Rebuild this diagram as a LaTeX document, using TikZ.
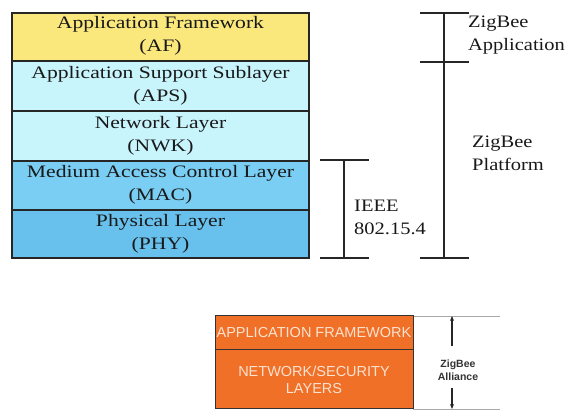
\documentclass[tikz,border=0pt]{standalone}
\usepackage{fontspec}
\setmainfont{Liberation Serif}
\newfontfamily\timesf{Liberation Serif}
\newfontfamily\arialf{Liberation Sans}
\usetikzlibrary{arrows.meta}
\definecolor{afyel}{RGB}{250,232,125}
\definecolor{lcyan}{RGB}{200,244,252}
\definecolor{macblue}{RGB}{122,206,243}
\definecolor{phyblue}{RGB}{104,192,236}
\definecolor{orng}{RGB}{240,112,40}
\definecolor{peach}{RGB}{252,226,208}
\definecolor{lgray}{RGB}{170,170,170}
\tikzset{
  layer/.style={draw=black!85, line width=1.4pt},
  lab/.style={font=\timesf\fontsize{17.5}{23}\selectfont, align=center, inner sep=0pt, text=black!90},
  bar/.style={line width=1.3pt, black!85},
  side/.style={font=\timesf\fontsize{17.5}{23}\selectfont, align=left, inner sep=0pt, anchor=west, text=black!90},
  obox/.style={draw=black!80, line width=1pt, fill=orng},
  olab/.style={font=\arialf\fontsize{14.5}{17}\selectfont, text=peach, align=center, inner sep=0pt},
}
\newcommand{\sx}[1]{\scalebox{1.235}[1]{#1}}
\newcommand{\sr}[1]{\scalebox{1.17}[1]{#1}}
\begin{document}
\begin{tikzpicture}[x=1pt,y=-1pt]
\useasboundingbox (0,0) rectangle (571,411);
% top stack
\path[layer, fill=afyel] (12,13) rectangle (309,61);
\path[layer, fill=lcyan] (12,61) rectangle (309,111);
\path[layer, fill=lcyan] (12,111) rectangle (309,161);
\path[layer, fill=macblue] (12,161) rectangle (309,210);
\path[layer, fill=phyblue] (12,210) rectangle (309,258);
\node[lab] (af) at (160.5,36) {\sx{Application Framework}\\\sx{(AF)}};
\node[lab] (aps) at (160.5,86) {\sx{Application Support Sublayer}\\\sx{(APS)}};
\node[lab] (nwk) at (160.5,136) {\sx{Network Layer}\\\sx{(NWK)}};
\node[lab] (mac) at (160.5,185) {\sx{Medium Access Control Layer}\\\sx{(MAC)}};
\node[lab] (phy) at (160.5,234) {\sx{Physical Layer}\\\sx{(PHY)}};
% IEEE bar
\coordinate (it) at (344,160);
\coordinate (ib) at (344,258);
\draw[bar] (320,160) -- (369,160);
\draw[bar] (320,258) -- (369,258);
\draw[bar] (it) -- (ib);
\node[side] (ieee) at (354,217) {\sr{IEEE}\\\sr{802.15.4}};
% ZigBee bar
\coordinate (zt) at (444,13);
\coordinate (zb) at (444,258);
\draw[bar] (420,13) -- (469,13);
\draw[bar] (420,62) -- (469,62);
\draw[bar] (420,258) -- (469,258);
\draw[bar] (zt) -- (zb);
\node[side] (zapp) at (468,35) {\sr{ZigBee}\\\sr{Application}};
\node[side] (zplat) at (472,153) {\sr{ZigBee}\\\sr{Platform}};
% bottom
\draw[lgray, line width=0.8pt] (413,316) -- (500,316);
\draw[lgray, line width=0.8pt] (413,409) -- (500,409);
\path[obox] (215,316) rectangle (413,350);
\path[obox] (215,350) rectangle (413,409);
\node[olab] (appfw) at (314,333) {APPLICATION FRAMEWORK};
\node[olab] (netsec) at (314,380) {NETWORK/SECURITY\\LAYERS};
\node[font=\arialf\bfseries\fontsize{10.5}{13}\selectfont, align=center, inner sep=0pt, text=black!80] (zall) at (458,370) {ZigBee\\Alliance};
\coordinate (atop) at (452,316);
\coordinate (abot) at (452,409);
\draw[line width=1.2pt, black!85, -{Stealth[length=5pt,width=4pt]}] (452,346) -- (atop);
\draw[line width=1.2pt, black!85, -{Stealth[length=5pt,width=4pt]}] (452,388) -- (abot);
\end{tikzpicture}
\end{document}
